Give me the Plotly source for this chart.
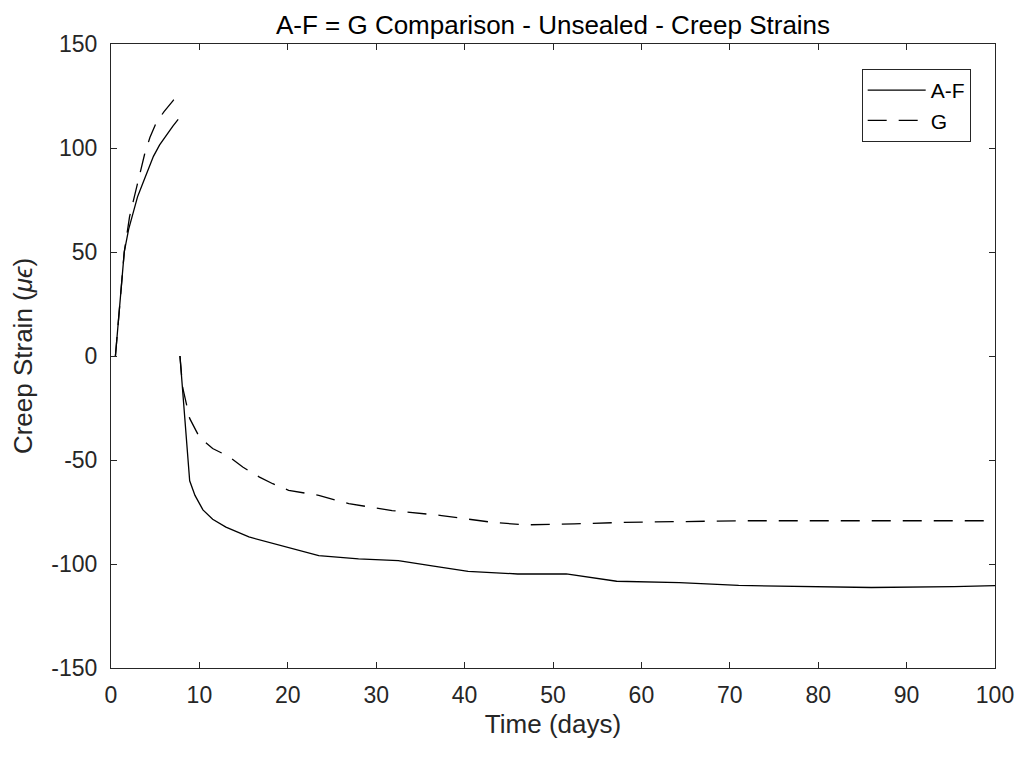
import plotly.graph_objects as go

# Time (days) and creep strain (microstrain); None breaks the two loading segments
af_x = [0.5, 1.0, 1.5, 2.0, 2.5, 3.0, 3.6, 4.2, 4.8, 5.5, 6.3, 7.0, 7.6, None,
        7.8, 8.9, 9.5, 10.4, 11.5, 13.0, 15.6, 18.6, 21.0, 23.5, 28.0, 32.5, 36.5,
        40.4, 46.0, 51.5, 57.2, 64.3, 71.0, 80.4, 86.0, 95.4, 100.0]
af_y = [0, 26, 50, 61, 69, 76.5, 83, 90, 96, 101.5, 106.5, 110.5, 113.8, None,
        0, -60, -67, -74, -78.5, -82.3, -87, -90.3, -93, -96, -97.5, -98.4, -101,
        -103.5, -104.8, -104.8, -108.3, -109, -110.3, -111.0, -111.3, -110.9, -110.4]

g_x = [0.5, 1.0, 1.5, 2.1, 2.7, 3.2, 3.8, 4.4, 5.1, 6.0, 7.0, 7.6, None,
       7.8, 8.1, 8.9, 10.0, 11.5, 13.4, 14.9, 16.8, 18.3, 20.1, 23.5, 26.9,
       31.8, 37.4, 43.0, 46.8, 52.4, 58.0, 71.5, 100.0]
g_y = [0, 26, 50, 67, 78, 87.5, 97, 105, 112, 117.5, 122.6, 126.6, None,
       0, -15, -30, -39, -44.5, -48.5, -53.4, -58.2, -61.4, -64.6, -67, -71,
       -74.3, -76.7, -79.9, -81.2, -80.7, -80.0, -79.2, -79.2]

x_ticks = [0, 10, 20, 30, 40, 50, 60, 70, 80, 90, 100]
x_tick_labels = ["0", "10", "20", "30", "40", "50", "60", "70", "80", "90", "100"]
y_ticks = [-150, -100, -50, 0, 50, 100, 150]
y_tick_labels = ["-150", "-100", "-50", "0", "50", "100", "150"]

TXT = "#262626"
FONT = "Liberation Sans, Arial, Helvetica, sans-serif"

fig = go.Figure()
fig.add_trace(go.Scatter(x=af_x, y=af_y, mode="lines", name="A-F",
                         line=dict(color="black", width=1.3), connectgaps=False))
fig.add_trace(go.Scatter(x=g_x, y=g_y, mode="lines", name="G",
                         line=dict(color="black", width=1.3, dash="19px,12px"),
                         connectgaps=False))

axis_common = dict(showline=True, linecolor=TXT, linewidth=1, mirror="allticks",
                   ticks="inside", ticklen=6, tickcolor=TXT, showgrid=False,
                   zeroline=False, tickfont=dict(size=23, color=TXT, family=FONT))

# the page body has an 8px margin, so the figure is offset by 8px
fig.update_layout(
    width=1018, height=749,
    margin=dict(l=103, r=24, t=36, b=89),
    paper_bgcolor="white", plot_bgcolor="white",
    font=dict(family=FONT, color=TXT),
    title=dict(text="A-F = G Comparison - Unsealed - Creep Strains",
               x=0.5, xref="paper", y=0.977, yref="container", yanchor="middle",
               font=dict(size=26, color="black")),
    xaxis=dict(range=[0, 100], tickvals=x_ticks, ticktext=x_tick_labels,
               ticklabelstandoff=6,
               title=dict(text="Time (days)", font=dict(size=26, color=TXT), standoff=8),
               **axis_common),
    yaxis=dict(range=[-150, 150], tickvals=y_ticks, ticktext=y_tick_labels,
               ticklabelstandoff=8,
               title=dict(text="Creep Strain (<i>μϵ</i>)", font=dict(size=26, color=TXT), standoff=12),
               **axis_common),
    legend=dict(x=0.9725, y=0.96, xanchor="right", yanchor="top",
                bgcolor="white", bordercolor=TXT, borderwidth=1, itemwidth=58,
                font=dict(size=21, color="black", family=FONT)),
    showlegend=True,
)

fig.write_html("out.html")
